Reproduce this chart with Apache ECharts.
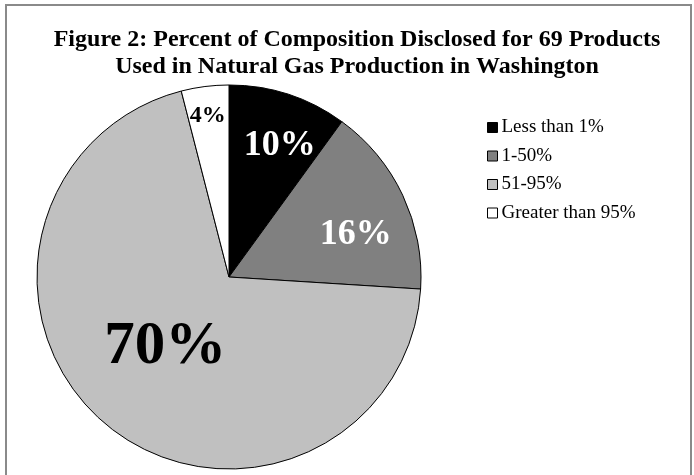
<!DOCTYPE html>
<html>
<head>
<meta charset="utf-8">
<script src="https://cdn.jsdelivr.net/npm/echarts@6/dist/echarts.min.js"></script>
<style>
html,body{margin:0;padding:0;background:#fff;}
#chart{width:694px;height:475px;}
</style>
</head>
<body>
<div id="chart"></div>
<script>
// ---- data ----
const titleLines = ['Figure 2: Percent of Composition Disclosed for 69 Products', 'Used in Natural Gas Production in Washington'];
const categories = ['Less than 1%', '1-50%', '51-95%', 'Greater than 95%'];
const percents = [10, 16, 70, 4];

// ---- styles ----
const sliceColors = ['#000000', '#808080', '#c0c0c0', '#ffffff'];
const labelColors = ['#ffffff', '#ffffff', '#000000', '#000000'];
const labelSizes = [36, 36, 61, 24];
// label placement: angle nudge (deg) from slice mid-angle, radial fraction of radius
const labelAngleNudge = [2.8, 5.7, 3.7, -0.2];
const labelRadialFrac = [0.745, 0.70, 0.485, 0.86];
const labelDrop = 2.5;

const CX = 229, CY = 277, R = 192;
const serif = '"Liberation Serif", "Times New Roman", serif';

const total = percents.reduce((a, b) => a + b, 0);
function midAngle(i) {
  let cum = 0;
  for (let k = 0; k < i; k++) cum += percents[k];
  return (cum + percents[i] / 2) / total * 360;
}

const chart = echarts.init(document.getElementById('chart'), null, {renderer: 'canvas'});
chart.setOption({
  backgroundColor: '#ffffff',
  animation: false,
  title: {
    text: titleLines.join('\n'),
    left: 352,
    textAlign: 'center',
    top: 21,
    textStyle: {
      fontFamily: serif,
      fontWeight: 'bold',
      fontSize: 24,
      lineHeight: 27,
      color: '#000'
    }
  },
  graphic: [{
    type: 'rect',
    shape: {x: 6, y: 5, width: 685, height: 490},
    style: {fill: 'none', stroke: '#8a8a8a', lineWidth: 2},
    silent: true,
    z: 100
  }],
  legend: {
    orient: 'vertical',
    left: 482,
    top: 113,
    icon: 'rect',
    itemWidth: 10,
    itemHeight: 10,
    itemGap: 9.5,
    itemStyle: {borderColor: '#000', borderWidth: 1},
    textStyle: {fontFamily: serif, fontSize: 19, lineHeight: 18, color: '#000', padding: [0, 0, 0, -1]},
    data: categories,
    selectedMode: false
  },
  series: [{
    type: 'pie',
    center: [CX, CY],
    radius: R,
    startAngle: 90,
    clockwise: true,
    silent: true,
    avoidLabelOverlap: false,
    itemStyle: {borderColor: '#000', borderWidth: 1},
    label: {
      show: true,
      position: 'inside',
      fontFamily: serif,
      fontWeight: 'bold',
      formatter: p => p.value + '%'
    },
    labelLine: {show: false},
    labelLayout: function (params) {
      const i = params.dataIndex;
      const a = (midAngle(i) + labelAngleNudge[i]) * Math.PI / 180;
      const d = labelRadialFrac[i] * R;
      return {
        x: CX + d * Math.sin(a),
        y: CY - d * Math.cos(a) + labelDrop,
        align: 'center',
        verticalAlign: 'middle'
      };
    },
    data: categories.map((c, i) => ({
      name: c,
      value: percents[i],
      itemStyle: {color: sliceColors[i]},
      label: {color: labelColors[i], fontSize: labelSizes[i]}
    }))
  }]
});
</script>
</body>
</html>
